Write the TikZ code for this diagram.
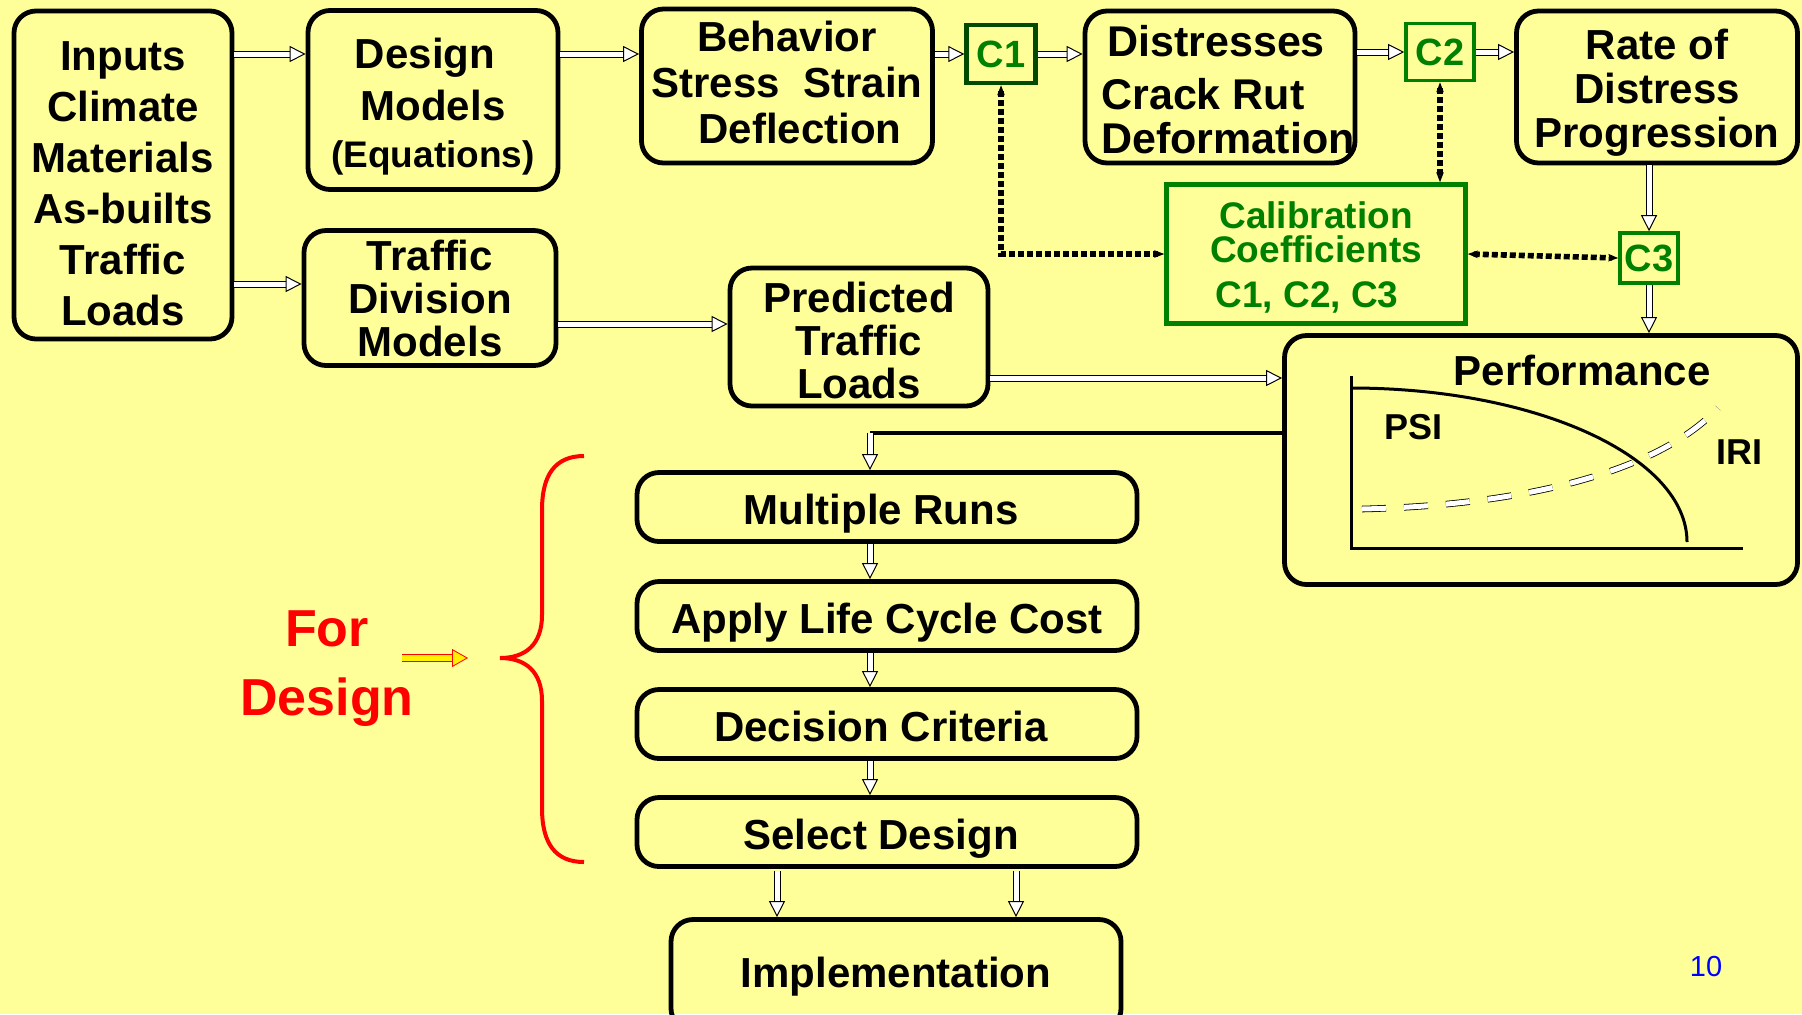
\documentclass[tikz,border=0pt]{standalone}
\usepackage{fontspec}
\setmainfont{Liberation Sans}
\usetikzlibrary{arrows.meta}

\definecolor{slidebg}{RGB}{255,255,153}
\definecolor{calgreen}{RGB}{0,128,0}
\definecolor{calgreendark}{RGB}{0,75,0}

% struts that move the text of a box up or down
\newcommand{\topgap}[1]{\rule{0pt}{#1}}
\newcommand{\botgap}[1]{\rule[-#1]{0pt}{0pt}}

\tikzset{
  flowbox/.style={draw, line width=2.4pt, rounded corners=11pt, align=center, inner sep=0pt, font=\fontsize{21}{22}\selectfont\bfseries},
  oneline/.style={execute at begin node={\rule[-4.5pt]{0pt}{#1}}},
  oneline/.default=26.4pt,
  calbox/.style={draw=calgreen, line width=1.8pt, text=calgreen, inner sep=0pt, align=center, font=\fontsize{19}{22}\selectfont\bfseries},
  hollow/.style={draw=black, line width=0.5pt, double=white, double distance=2.5pt, -{Triangle[open, fill=white, length=8pt, width=8pt]}},
  calib link/.style={line width=2.8pt, dash pattern=on 3pt off 1.5pt, {Stealth[length=5pt]}-{Stealth[length=5pt]}},
}

\begin{document}
\begin{tikzpicture}[x=0.5pt, y=-0.5pt]
\fill[slidebg] (0,0) rectangle (1802,1014);
\useasboundingbox (0,0) rectangle (1802,1014);

% Top row
\node[flowbox, minimum width=109pt, minimum height=164pt, font=\fontsize{21}{25.5}\selectfont\bfseries] (inputs) at (123,175) {\topgap{23pt}Inputs\\Climate\\Materials\\As-builts\\Traffic\\Loads};
\node[flowbox, minimum width=125pt, minimum height=89.5pt, font=\fontsize{21}{26}\selectfont\bfseries] (design) at (433,100) {\topgap{21.4pt}Design\hspace*{8pt}\\Models\hspace*{8pt}\\[-2.5pt]{\fontsize{18.5}{22}\selectfont(Equations)}};
\node[flowbox, minimum width=145.5pt, minimum height=77pt, font=\fontsize{21}{23}\selectfont\bfseries] (behavior) at (787,86) {Behavior\\Stress~~Strain\\\hspace*{13pt}Deflection\botgap{3.4pt}};
\node[calbox, draw=calgreendark, line width=2.2pt, minimum width=34.5pt, minimum height=29pt] (c1) at (1001,54) {C1};
\node[flowbox, minimum width=135pt, minimum height=76pt, align=left, font=\fontsize{21.5}{22}\selectfont\bfseries] (distress) at (1220,87) {\topgap{18.4pt}\hspace*{11pt}Distresses\\[4.5pt]\hspace*{8pt}Crack Rut\\\hspace*{8pt}Deformation};
\node[calbox, minimum width=34pt, minimum height=28.5pt] (c2) at (1440,52) {C2};
\node[flowbox, minimum width=140.5pt, minimum height=76pt] (rate) at (1657,87) {\topgap{21.1pt}Rate of\\Distress\\Progression};

% Middle row
\node[flowbox, minimum width=126pt, minimum height=67.5pt, font=\fontsize{21}{21.5}\selectfont\bfseries] (division) at (430,298) {Traffic\\Division\\Models};
\node[flowbox, minimum width=129pt, minimum height=69pt, font=\fontsize{21}{21.5}\selectfont\bfseries] (predicted) at (859,337) {\topgap{18.7pt}Predicted\\Traffic\\Loads};
\node[calbox, line width=2.2pt, minimum width=149.5pt, minimum height=69.5pt, font=\fontsize{18.5}{17}\selectfont\bfseries] (calib) at (1316,254) {\topgap{16.9pt}Calibration\\Coefficients\hspace*{6pt}\\[5.5pt]C1, C2, C3\hspace*{9pt}};
\node[calbox, minimum width=29pt, minimum height=25pt] (c3) at (1649,258) {C3};

% Performance chart
\node[flowbox, minimum width=256.5pt, minimum height=124.5pt] (perf) at (1541,460) {};
\node[font=\fontsize{21}{22}\selectfont\bfseries] (perftitle) at (1582,370) {Performance};
\draw[line width=1.5pt] (1351,376) -- (1351,548) -- (1743,548);
\draw[line width=1.5pt] (1351,388) .. controls (1537,388) and (1687,457) .. (1687,542);
\draw[line width=0.4pt, double=white, double distance=2.5pt, dash pattern=on 12pt off 9pt] (1362,509) .. controls (1530,505) and (1660,470) .. (1718,408);
\node[font=\fontsize{18}{20}\selectfont\bfseries] (psi) at (1413,427) {PSI};
\node[font=\fontsize{18}{20}\selectfont\bfseries] (iri) at (1739,452) {IRI};

% Design loop
\node[flowbox, oneline, minimum width=250pt, minimum height=34.5pt] (runs) at (887,507) {Multiple Runs\hspace*{6pt}};
\node[flowbox, oneline, minimum width=250pt, minimum height=34.5pt] (lcc) at (887,616) {Apply Life Cycle Cost};
\node[flowbox, oneline, minimum width=250pt, minimum height=34.5pt] (crit) at (887,724) {Decision Criteria\hspace*{6pt}};
\node[flowbox, oneline, minimum width=250pt, minimum height=34.5pt] (select) at (887,832) {Select Design\hspace*{6pt}};
\node[flowbox, oneline=21.5pt, minimum width=225pt, minimum height=55.5pt] (impl) at (896,975) {Implementation};

% For design brace
\node[text=red, align=center, font=\fontsize{26}{34.5}\selectfont\bfseries] (fordesign) at (327,669) {For\\Design};
\coordinate (bracetip) at (500,658);
\coordinate (yarrow) at (402,658);
\draw[red, line width=2pt] (584,456) .. controls (555,456) and (542,475) .. (542,510) -- (542,615)
  .. controls (542,645) and (525,658) .. (bracetip) .. controls (525,658) and (542,671) .. (542,701)
  -- (542,808) .. controls (542,843) and (555,862) .. (584,862);
\draw[draw=red, line width=0.4pt, double=yellow, double distance=3pt, -{Triangle[fill=yellow, length=8pt, width=9pt]}] (yarrow) -- ([xshift=-16pt]bracetip);

% Flow arrows
\coordinate (toprow) at (0,54);
\draw[hollow] (inputs.east |- toprow) -- (design.west |- toprow);
\draw[hollow] (design.east |- toprow) -- (behavior.west |- toprow);
\draw[hollow] (behavior.east |- c1.west) -- (c1.west);
\draw[hollow] (c1.east) -- (distress.west |- c1.east);
\draw[hollow] (distress.east |- c2.west) -- (c2.west);
\draw[hollow] (c2.east) -- (rate.west |- c2.east);
\draw[hollow] (rate.south -| c3.north) -- (c3.north);
\draw[hollow] (c3.south) -- (c3.south |- perf.north);
\draw[hollow] (inputs.east |- 0,284) -- (division.west |- 0,284);
\draw[hollow] (division.east |- 0,324) -- (predicted.west |- 0,324);
\draw[hollow] (predicted.east |- 0,378) -- (perf.west |- 0,378);

% Back to the design loop
\coordinate (spine) at (870,433);
\draw[line width=2pt] (perf.west |- spine) -- (spine);
\draw[hollow] (spine) -- (runs.north -| spine);
\draw[hollow] (runs.south -| spine) -- (lcc.north -| spine);
\draw[hollow] (lcc.south -| spine) -- (crit.north -| spine);
\draw[hollow] (crit.south -| spine) -- (select.north -| spine);
\coordinate (implL) at (777,871);
\coordinate (implR) at (1016,871);
\draw[hollow] (implL) -- (implL |- impl.north);
\draw[hollow] (implR) -- (implR |- impl.north);

% Calibration links
\draw[calib link] (c1.south) |- (calib.west);
\draw[calib link] (c2.south) -- (c2.south |- calib.north);
\draw[calib link] (calib.east) -- (c3.west);

% Page number
\node[text=blue, font=\fontsize{14.5}{16}\selectfont] (pagenum) at (1706,966) {10};
\end{tikzpicture}
\end{document}
